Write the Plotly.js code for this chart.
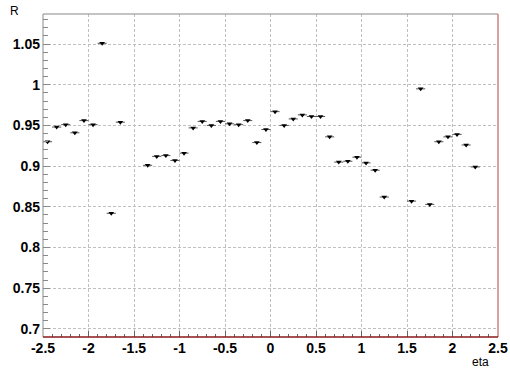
<!DOCTYPE html>
<html>
<head>
<meta charset="utf-8">
<script src="https://cdn.plot.ly/plotly-3.0.1.min.js"></script>
<style>html,body{margin:0;padding:0;background:#fff;}#chart{width:510px;height:371px;}</style>
</head>
<body>
<div id="chart"></div>
<script>
const eta = [-2.45,-2.35,-2.25,-2.15,-2.05,-1.95,-1.85,-1.75,-1.65,-1.35,-1.25,-1.15,-1.05,-0.95,-0.85,-0.75,-0.65,-0.55,-0.45,-0.35,-0.25,-0.15,-0.05,0.05,0.15,0.25,0.35,0.45,0.55,0.65,0.75,0.85,0.95,1.05,1.15,1.25,1.55,1.65,1.75,1.85,1.95,2.05,2.15,2.25];
const R = [0.930,0.948,0.951,0.941,0.956,0.951,1.051,0.842,0.954,0.901,0.912,0.913,0.907,0.916,0.947,0.955,0.950,0.955,0.952,0.951,0.956,0.929,0.945,0.967,0.950,0.958,0.963,0.961,0.961,0.936,0.905,0.906,0.911,0.904,0.895,0.862,0.857,0.995,0.853,0.930,0.936,0.939,0.926,0.899];
const binHalfWidth = eta.map(() => 0.05);
const xTicks = [-2.5,-2,-1.5,-1,-0.5,0,0.5,1,1.5,2,2.5];
const xTickText = ['-2.5','-2','-1.5','-1','-0.5','0','0.5','1','1.5','2','2.5'];
const yTicks = [0.7,0.75,0.8,0.85,0.9,0.95,1,1.05];
const yTickText = ['0.7','0.75','0.8','0.85','0.9','0.95','1','1.05'];

const trace = {
  x: eta, y: R, type: 'scatter', mode: 'markers',
  marker: {symbol: 'triangle-down', size: 5, color: '#000'},
  error_x: {type: 'data', array: binHalfWidth, visible: true, width: 0, thickness: 1, color: '#555'},
  hoverinfo: 'none'
};
const tickFont = {family: 'Liberation Sans, Arial, sans-serif', size: 14, color: '#000', weight: 'bold'};
const layout = {
  width: 510, height: 371,
  margin: {l: 43, r: 12, t: 14, b: 34, pad: 0},
  paper_bgcolor: '#fff', plot_bgcolor: '#fff',
  showlegend: false,
  xaxis: {
    range: [-2.5, 2.5], tickvals: xTicks, ticktext: xTickText,
    ticks: 'inside', ticklen: 6, tickcolor: '#666', tickwidth: 1,
    minor: {dtick: 0.1, tick0: -2.5, ticks: 'inside', ticklen: 3, tickcolor: '#666', showgrid: false},
    showgrid: true, gridcolor: '#c0c0c0', griddash: '3px,2px', gridwidth: 1,
    zeroline: false, showline: false, tickfont: tickFont, ticklabelstandoff: 1
  },
  yaxis: {
    range: [0.690, 1.087], tickvals: yTicks, ticktext: yTickText,
    ticks: 'inside', ticklen: 7, tickcolor: '#888', tickwidth: 1,
    minor: {dtick: 0.01, tick0: 0.7, ticks: 'inside', ticklen: 5, tickcolor: '#888', showgrid: false},
    showgrid: true, gridcolor: '#c0c0c0', griddash: '3px,2px', gridwidth: 1,
    zeroline: false, showline: false, tickfont: tickFont, ticklabelstandoff: 2
  },
  shapes: [
    {type: 'line', xref: 'paper', yref: 'paper', x0: 0, x1: 1, y0: 1, y1: 1, line: {color: '#888', width: 1}, layer: 'above'},
    {type: 'line', xref: 'paper', yref: 'paper', x0: 0, x1: 0, y0: 0, y1: 1, line: {color: '#888', width: 1}, layer: 'above'},
    {type: 'line', xref: 'paper', yref: 'paper', x0: 1, x1: 1, y0: 0, y1: 1, line: {color: '#d08080', width: 1.5}, layer: 'above'},
    {type: 'line', xref: 'paper', yref: 'paper', x0: 0, x1: 1, y0: 0, y1: 0, line: {color: '#8b1a1a', width: 1.5}, layer: 'above'}
  ],
  annotations: [
    {text: 'R', xref: 'paper', yref: 'paper', x: -0.077, y: 1.009, xanchor: 'left', yanchor: 'middle', showarrow: false,
     font: {family: 'Liberation Sans, Arial, sans-serif', size: 12, color: '#000'}},
    {text: 'eta', xref: 'paper', yref: 'paper', x: 0.985, y: -0.077, xanchor: 'right', yanchor: 'middle', showarrow: false,
     font: {family: 'Liberation Sans, Arial, sans-serif', size: 12, color: '#000'}}
  ]
};
Plotly.newPlot('chart', [trace], layout, {staticPlot: true, displayModeBar: false});
</script>
</body>
</html>
